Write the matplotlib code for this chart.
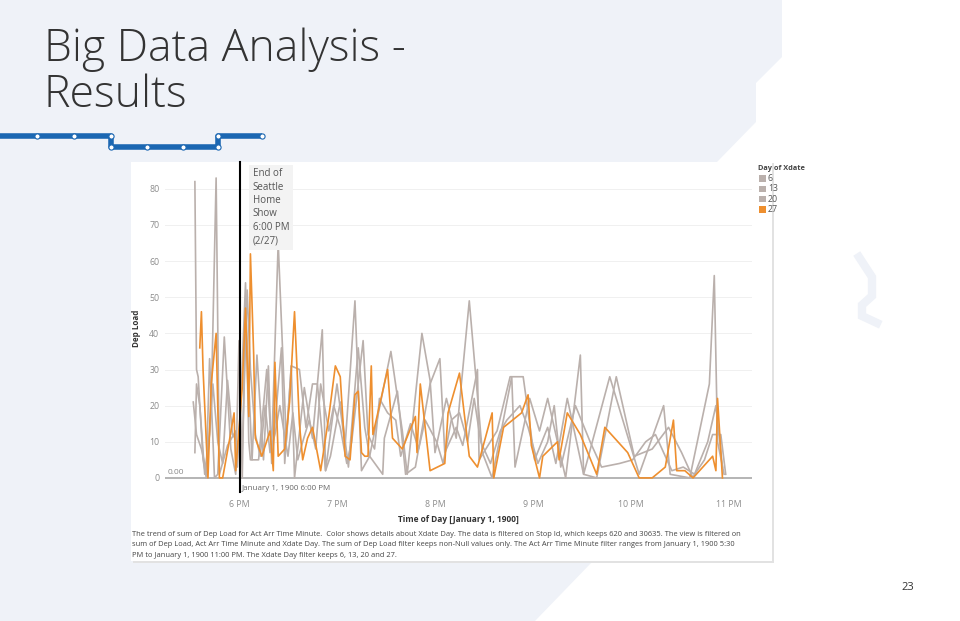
import matplotlib.pyplot as plt
import matplotlib.patches as mpatches
import matplotlib.transforms as mtransforms
from matplotlib.ticker import FixedLocator, FuncFormatter

# minutes after 5:00 PM, Dep Load
t_27 = [36, 37, 38, 41, 43, 46, 48, 50, 54, 57, 58, 62, 64, 66, 67, 69, 70, 74, 79, 81,
        82, 84, 86, 88, 91, 94, 97, 99, 102, 105, 110, 115, 119, 122, 125, 128, 131, 133,
        135, 137, 139, 141, 142, 151, 154, 160, 168, 169, 171, 177, 186, 188, 195, 201,
        206, 215, 216, 222, 233, 237, 239, 244, 246, 255, 256, 261, 269, 279, 284, 290,
        298, 305, 313, 321, 326, 328, 333, 338, 344, 350, 352, 353, 356]
v_27 = [36, 46, 30, 0, 26, 40, 0, 0, 10, 18, 2, 25, 47, 17, 62, 34, 11, 6, 13, 2,
        32, 6, 7, 8, 21, 46, 15, 5, 11, 14, 2, 17, 31, 28, 6, 5, 23, 24,
        7, 6, 6, 31, 12, 30, 11, 8, 17, 7, 26, 2, 4, 18, 29, 6,
        3, 18, 0, 14, 18, 23, 9, 0, 6, 10, 5, 18, 12, 1, 14, 11,
        7, 0, 0, 3, 16, 2, 2, 0, 3, 6, 2, 22, 0]

t_6 = [32, 34, 37, 40, 42, 45, 47, 51, 55, 58, 60, 62, 64, 68, 71, 75, 78, 80, 86, 88,
       92, 94, 100, 105, 111, 113, 120, 125, 131, 135, 140, 153, 160, 163, 172, 177, 180,
       187, 193, 201, 209, 215, 227, 229, 238, 244, 249, 260, 269, 271, 287, 305, 320,
       324, 336, 348, 351, 353, 357]
v_6 = [21, 12, 8, 2, 33, 0, 1, 39, 8, 1, 38, 0, 47, 5, 34, 5, 31, 4, 36, 4,
       31, 0, 25, 11, 41, 2, 26, 9, 49, 2, 6, 35, 13, 1, 40, 27, 7,
       22, 11, 49, 7, 0, 28, 3, 22, 13, 22, 0, 34, 1, 28, 1, 20,
       1, 0, 26, 56, 10, 1]

t_13 = [33, 34, 35, 38, 40, 43, 46, 48, 53, 58, 59, 61, 64, 66, 67, 72, 77, 80, 84, 89,
        92, 97, 101, 105, 108, 113, 116, 122, 127, 133, 137, 140, 148, 149, 157, 162, 168,
        177, 183, 186, 193, 197, 206, 207, 218, 226, 234, 241, 249, 254, 261, 271, 279,
        291, 302, 313, 323, 331, 338, 347, 352, 356]
v_13 = [82, 30, 28, 5, 0, 20, 83, 1, 9, 13, 3, 20, 54, 10, 5, 5, 30, 8, 65, 10,
        31, 30, 14, 26, 26, 2, 6, 21, 3, 36, 14, 6, 1, 11, 24, 1, 3,
        26, 33, 7, 14, 9, 30, 5, 13, 28, 28, 5, 14, 4, 22, 1, 0,
        28, 6, 8, 14, 7, 0, 10, 20, 3]

t_20 = [33, 34, 36, 39, 42, 44, 47, 50, 53, 56, 59, 62, 65, 67, 70, 73, 76, 79, 82, 85,
        90, 93, 96, 99, 103, 107, 110, 115, 118, 122, 126, 129, 136, 139, 143, 146, 151,
        156, 159, 165, 170, 174, 181, 185, 190, 195, 200, 204, 208, 214, 220, 224, 232,
        237, 243, 249, 253, 257, 266, 275, 282, 293, 301, 309, 315, 325, 332, 339, 345,
        350, 355, 358]
v_20 = [7, 26, 20, 1, 12, 26, 10, 4, 27, 12, 10, 8, 52, 30, 12, 6, 20, 7, 12, 20,
        6, 18, 5, 10, 16, 8, 26, 13, 20, 14, 4, 10, 38, 12, 8, 22, 18,
        16, 6, 15, 8, 16, 10, 4, 16, 18, 10, 22, 10, 4, 13, 16, 20,
        14, 4, 10, 20, 3, 20, 10, 3, 4, 5, 10, 12, 2, 3, 1, 5,
        12, 12, 1]

hour_ticks = [60, 120, 180, 240, 300, 360]
hour_labels = ['6 PM', '7 PM', '8 PM', '9 PM', '10 PM', '11 PM']
legend_days = ['6', '13', '20', '27']

caption = ("The trend of sum of Dep Load for Act Arr Time Minute.  Color shows details about Xdate Day. "
           "The data is filtered on Stop Id, which keeps 620 and 30635. The view is filtered on\n"
           "sum of Dep Load, Act Arr Time Minute and Xdate Day. The sum of Dep Load filter keeps "
           "non-Null values only. The Act Arr Time Minute filter ranges from January 1, 1900 5:30\n"
           "PM to January 1, 1900 11:00 PM. The Xdate Day filter keeps 6, 13, 20 and 27.")

GRAY = '#BAB0AC'
ORANGE = '#EE8F2F'
LIGHT = '#EFF2F8'
BLUE = '#1B67B2'

plt.rcParams['font.family'] = ['Open Sans', 'DejaVu Sans']

fig = plt.figure(figsize=(9.6, 6.21), dpi=100)
fig.patch.set_facecolor('white')

# slide background in pixel coords
bg = fig.add_axes([0, 0, 1, 1], zorder=0)
bg.set_xlim(0, 960)
bg.set_ylim(621, 0)
bg.axis('off')

bg.add_patch(mpatches.Polygon([(0, 0), (782, 0), (782, 57), (756, 83), (756, 122),
                               (717, 162), (717, 500), (593, 561), (535, 621), (0, 621)],
                              closed=True, facecolor=LIGHT, edgecolor='none'))
bg.plot([859, 872, 872, 862, 862, 877], [257, 277, 296, 305, 316, 323],
        color=LIGHT, lw=6, solid_joinstyle='miter')

# title
bg.text(44, 61, 'Big Data Analysis -', fontsize=32, color='#333333',
        fontweight='light', va='baseline')
bg.text(44, 107, 'Results', fontsize=32, color='#333333',
        fontweight='light', va='baseline')

# subway line
bg.plot([0, 111, 111, 218, 218, 262], [136, 136, 147, 147, 136, 136],
        color=BLUE, lw=4, solid_capstyle='butt', zorder=2)
bg.scatter([37, 74, 111, 111, 147, 183, 218, 218, 262],
           [136, 136, 136, 147, 147, 147, 147, 136, 136],
           s=14, facecolor='white', edgecolor=BLUE, linewidth=0.8, zorder=3)

# chart panel
bg.add_patch(mpatches.Rectangle((133, 163), 641, 400, facecolor='#E2E2E2',
                                edgecolor='none', zorder=1))
bg.add_patch(mpatches.Rectangle((131, 162), 641, 399, facecolor='white',
                                edgecolor='none', zorder=1))

# page number
bg.text(908, 587, '23', fontsize=8, color='#333333', ha='center', va='center')

# legend
bg.text(758, 168, 'Day of Xdate', fontsize=5.3, fontweight='bold', color='#444444',
        va='center', zorder=3)
for i, d in enumerate(legend_days):
    y = 178.5 + i * 10.3
    c = ORANGE if d == '27' else GRAY
    bg.add_patch(mpatches.Rectangle((759, y - 3.2), 6.5, 6.5, facecolor=c, edgecolor='none', zorder=3))
    bg.text(768, y, d, fontsize=6.3, color='#555555', va='center', zorder=3)

# caption
bg.text(132, 531, caption, fontsize=5.4, color='#444444', va='top',
        linespacing=1.7, zorder=3)

# chart
ax = fig.add_axes([165 / 960, 1 - 492 / 621, (752 - 165) / 960, (492 - 165) / 621], zorder=2)
ax.patch.set_alpha(0)
ax.set_xlim(14.7, 374.1)
ax.set_ylim(-3.9, 86.6)

for s in ax.spines.values():
    s.set_visible(False)

for yv in range(10, 90, 10):
    ax.axhline(yv, color='#F0F0F0', lw=0.7, zorder=0)
ax.axhline(0, color='#A8A8A8', lw=1.2, zorder=1)

ax.plot(t_6, v_6, color=GRAY, lw=1.2, zorder=2)
ax.plot(t_13, v_13, color=GRAY, lw=1.2, zorder=2)
ax.plot(t_20, v_20, color=GRAY, lw=1.2, zorder=2)
ax.plot(t_27, v_27, color=ORANGE, lw=1.2, zorder=3)

ax.axvline(60.5, color='black', lw=1.5, zorder=4, ymax=1.01, clip_on=False)

ax.xaxis.set_major_locator(FixedLocator(hour_ticks))
ax.xaxis.set_major_formatter(FuncFormatter(lambda v, p: hour_labels[hour_ticks.index(int(v))]))
ax.set_yticks(range(0, 90, 10))
ax.tick_params(axis='both', length=0, labelsize=6.3, labelcolor='#8C8C8C')
ax.tick_params(axis='x', pad=6)
ax.tick_params(axis='y', pad=4)

ax.set_xlabel('Time of Day [January 1, 1900]', fontsize=6, fontweight='bold',
              color='#333333', labelpad=4)
ax.set_ylabel('Dep Load', fontsize=5.8, fontweight='bold', color='#333333', labelpad=6)

trans = mtransforms.blended_transform_factory(ax.transAxes, ax.transData)
ax.text(0.005, 0.6, '0.00', transform=trans, fontsize=6, color='#888888', va='bottom')
ax.text(61.5, -2.8, 'January 1, 1900 6:00 PM', fontsize=5.8, color='#666666', va='center')

ax.text(68.5, 85.7, 'End of\nSeattle\nHome\nShow\n6:00 PM\n(2/27)', fontsize=7, color='#555555',
        va='top', ha='left', linespacing=1.3, zorder=5,
        bbox=dict(boxstyle='square,pad=0.35', facecolor='#F3F3F3', edgecolor='none'))

fig.savefig('out.png', dpi=100)
